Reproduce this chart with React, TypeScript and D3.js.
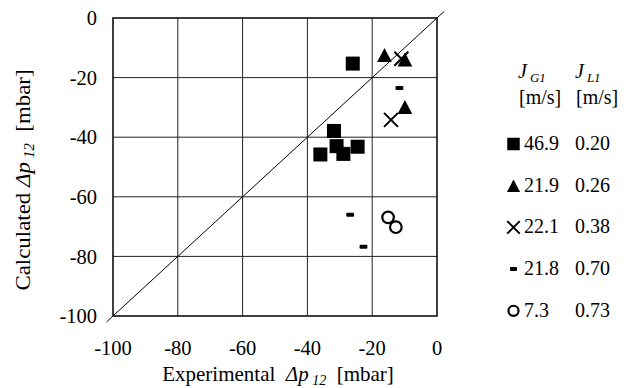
import * as d3 from "d3";

const WIDTH = 636;
const HEIGHT = 388;
const PLOT = { left: 113, right: 437, top: 18, bottom: 316 };
const FONT = "'Liberation Serif', 'Times New Roman', serif";

const TICKS = [-100, -80, -60, -40, -20, 0];

// [experimental, calculated] in mbar
const SQUARES = [
  [-26, -15.3],
  [-31.8, -37.9],
  [-31, -43],
  [-28.9, -45.6],
  [-36, -45.8],
  [-24.5, -43.2],
];
const TRIANGLES = [
  [-16.2, -12.4],
  [-9.9, -13.9],
  [-9.9, -29.9],
];
const CROSSES = [
  [-11, -13.7],
  [-14.2, -34.2],
];
const DASHES = [
  [-11.6, -23.5],
  [-26.8, -66],
  [-22.7, -76.8],
];
const CIRCLES = [
  [-15.1, -66.9],
  [-12.7, -70.2],
];

const LEGEND_MARKERS = ["square", "triangle", "cross", "dash", "circle"];
const LEGEND_JG = ["46.9", "21.9", "22.1", "21.8", "7.3"];
const LEGEND_JL = ["0.20", "0.26", "0.38", "0.70", "0.73"];

const Marker = ({ kind, x, y, s }: { kind: string; x: number; y: number; s: number }) => {
  const h = s / 2;
  if (kind === "square")
    return <rect x={x - h} y={y - h} width={s} height={s} fill="black" />;
  if (kind === "triangle")
    return (
      <path
        d={`M${x},${y - h}L${x + h * 1.05},${y + h}L${x - h * 1.05},${y + h}Z`}
        fill="black"
      />
    );
  if (kind === "cross")
    return (
      <path
        d={`M${x - h},${y - h}L${x + h},${y + h}M${x - h},${y + h}L${x + h},${y - h}`}
        stroke="black"
        strokeWidth={2}
        fill="none"
      />
    );
  if (kind === "dash")
    return (
      <rect x={x - s * 0.28} y={y - 2} width={s * 0.56} height={4} rx={1} fill="black" />
    );
  return <circle cx={x} cy={y} r={h - 1.2} fill="white" stroke="black" strokeWidth={2.2} />;
};

export default function App() {
  const x = d3.scaleLinear().domain([-100, 0]).range([PLOT.left, PLOT.right]);
  const y = d3.scaleLinear().domain([-100, 0]).range([PLOT.bottom, PLOT.top]);

  const series: [string, number[][]][] = [
    ["square", SQUARES],
    ["triangle", TRIANGLES],
    ["cross", CROSSES],
    ["dash", DASHES],
    ["circle", CIRCLES],
  ];

  const rowY = (i: number) => 150 + i * 41.7;

  return (
    <svg
      width={WIDTH}
      height={HEIGHT}
      style={{ position: "absolute", left: 0, top: 0, background: "white" }}
      fontFamily={FONT}
    >
      {/* grid */}
      {TICKS.slice(1, -1).map((t) => (
        <g key={t}>
          <line x1={x(t)} x2={x(t)} y1={y(-100)} y2={y(0)} stroke="#222" strokeWidth={1} />
          <line x1={x(-100)} x2={x(0)} y1={y(t)} y2={y(t)} stroke="#222" strokeWidth={1} />
        </g>
      ))}
      <rect
        x={x(-100)}
        y={y(0)}
        width={x(0) - x(-100)}
        height={y(-100) - y(0)}
        fill="none"
        stroke="black"
        strokeWidth={1.5}
      />

      {/* 1:1 line */}
      <line x1={x(-102)} y1={y(-102)} x2={x(2.2)} y2={y(2.2)} stroke="black" strokeWidth={1} />

      {/* ticks */}
      {TICKS.map((t) => (
        <g key={t} fontSize={20.5}>
          <text x={97} y={y(t)} dy="0.35em" textAnchor="end">
            {t}
          </text>
          <text x={x(t)} y={355} textAnchor="middle">
            {t}
          </text>
        </g>
      ))}

      {/* points */}
      {series.map(([kind, pts]) =>
        pts.map((d, i) => <Marker key={kind + i} kind={kind} x={x(d[0])} y={y(d[1])} s={14} />)
      )}

      {/* axis titles */}
      <text x={278} y={381} textAnchor="middle" fontSize={21} xmlSpace="preserve">
        Experimental{"  "}
        <tspan fontStyle="italic">Δp</tspan>
        <tspan fontStyle="italic" fontSize={14} dy={4}> 12</tspan>
        <tspan dy={-4}>{"  "}[mbar]</tspan>
      </text>
      <text
        transform={`translate(30,180) rotate(-90) scale(1.09,1)`}
        textAnchor="middle"
        fontSize={21}
        xmlSpace="preserve"
      >
        Calculated{" "}
        <tspan fontStyle="italic">Δp</tspan>
        <tspan fontStyle="italic" fontSize={14} dy={4}> 12</tspan>
        <tspan dy={-4}>{"  "}[mbar]</tspan>
      </text>

      {/* legend */}
      <g fontSize={20}>
        <text x={518} y={78}>
          <tspan fontStyle="italic">J</tspan>
          <tspan fontStyle="italic" fontSize={13} dy={4} dx={3}>G1</tspan>
        </text>
        <text x={575} y={78}>
          <tspan fontStyle="italic">J</tspan>
          <tspan fontStyle="italic" fontSize={13} dy={4} dx={3}>L1</tspan>
        </text>
        <text x={519} y={104}>[m/s]</text>
        <text x={576} y={104}>[m/s]</text>
        {LEGEND_MARKERS.map((kind, i) => (
          <g key={kind}>
            <Marker kind={kind} x={513.5} y={rowY(i) - 6} s={12.5} />
            <text x={524} y={rowY(i)}>{LEGEND_JG[i]}</text>
            <text x={575} y={rowY(i)}>{LEGEND_JL[i]}</text>
          </g>
        ))}
      </g>
    </svg>
  );
}
